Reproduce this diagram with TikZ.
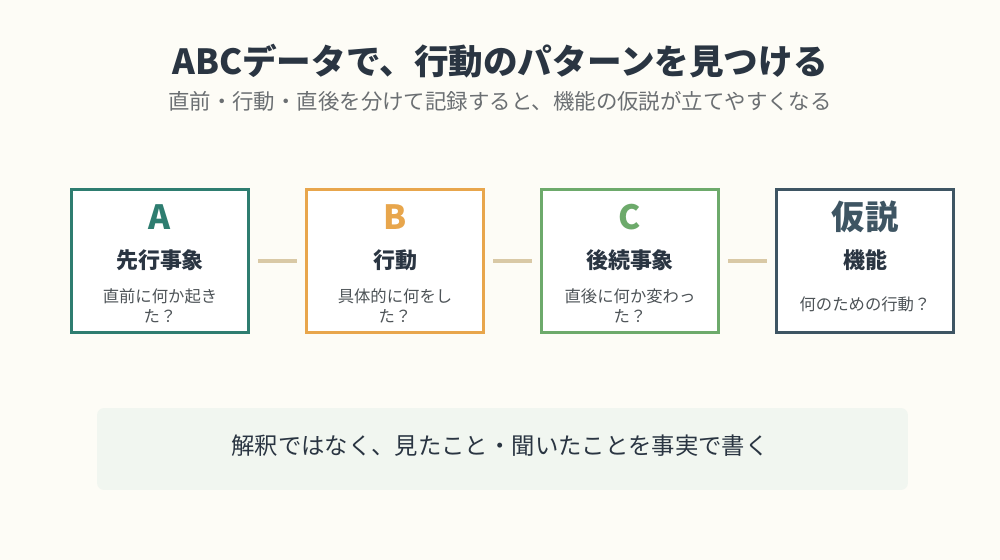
\documentclass[tikz,border=0pt]{standalone}
\usepackage{fontspec}
\setmainfont{Noto Sans CJK JP}
\usepackage{xcolor}
\usepackage{tikz}
\usetikzlibrary{positioning}
\definecolor{fondo}{HTML}{FDFCF6}
\definecolor{tinta}{HTML}{2A3542}
\definecolor{grisclaro}{HTML}{6B6F72}
\definecolor{grisdesc}{HTML}{4D5357}
\definecolor{verdeazul}{HTML}{2E7D70}
\definecolor{naranja}{HTML}{E8A64C}
\definecolor{verde}{HTML}{6DAA6B}
\definecolor{pizarra}{HTML}{3E5563}
\definecolor{arena}{HTML}{D9C9A6}
\definecolor{nota}{HTML}{F1F6F0}
\tikzset{
  caja/.style={draw=#1, line width=1.7pt, fill=white, minimum width=3.54cm, minimum height=2.86cm},
  letra/.style={text=#1, font=\fontsize{19}{22}\selectfont\bfseries},
  rotulo/.style={text=tinta, font=\fontsize{12.5}{15}\selectfont\bfseries},
  desc/.style={text=grisdesc, font=\fontsize{9.3}{11.3}\selectfont, align=center},
  enlace/.style={arena, line width=2.3pt, shorten <=0.17cm, shorten >=0.17cm},
}
\begin{document}
\begin{tikzpicture}[x=0.02cm, y=-0.02cm]
  \fill[fondo] (0,0) rectangle (1000,560);
  \useasboundingbox (0,0) rectangle (1000,560);
  \node[text=tinta, font=\fontsize{19.7}{23}\selectfont\bfseries] (titulo) at (500,61) {ABCデータで、行動のパターンを見つける};
  \node[text=grisclaro, font=\fontsize{12.2}{14}\selectfont] (subtitulo) at (500,101) {直前・行動・直後を分けて記録すると、機能の仮説が立てやすくなる};
  % las cuatro cajas
  \node[caja=verdeazul] (ant) at (160,261) {};
  \node[caja=naranja] (con) at (395,261) {};
  \node[caja=verde] (cons) at (630,261) {};
  \node[caja=pizarra] (hip) at (865,261) {};
  \node[letra=verdeazul] (antL) at (160,217) {A};
  \node[rotulo] (antR) at (160,260) {先行事象};
  \node[desc] (antD) at (160,306) {直前に何か起き\\た？};
  \node[letra=naranja] (conL) at (395,217) {B};
  \node[rotulo] (conR) at (395,260) {行動};
  \node[desc] (conD) at (395,306) {具体的に何をし\\た？};
  \node[letra=verde] (consL) at (630,217) {C};
  \node[rotulo] (consR) at (630,260) {後続事象};
  \node[desc] (consD) at (630,306) {直後に何か変わっ\\た？};
  \node[letra=pizarra] (hipL) at (865,217) {仮説};
  \node[rotulo] (hipR) at (865,260) {機能};
  \node[desc] (hipD) at (865,304) {何のための行動？};
  \draw[enlace] (ant) -- (con);
  \draw[enlace] (con) -- (cons);
  \draw[enlace] (cons) -- (hip);
  % nota inferior
  \node[fill=nota, rounded corners=4pt, minimum width=16.22cm, minimum height=1.64cm] (caja nota) at (502.5,449) {};
  \node[text=tinta, font=\fontsize{13.3}{16}\selectfont] (texto nota) at (500,446) {解釈ではなく、見たこと・聞いたことを事実で書く};
\end{tikzpicture}
\end{document}
